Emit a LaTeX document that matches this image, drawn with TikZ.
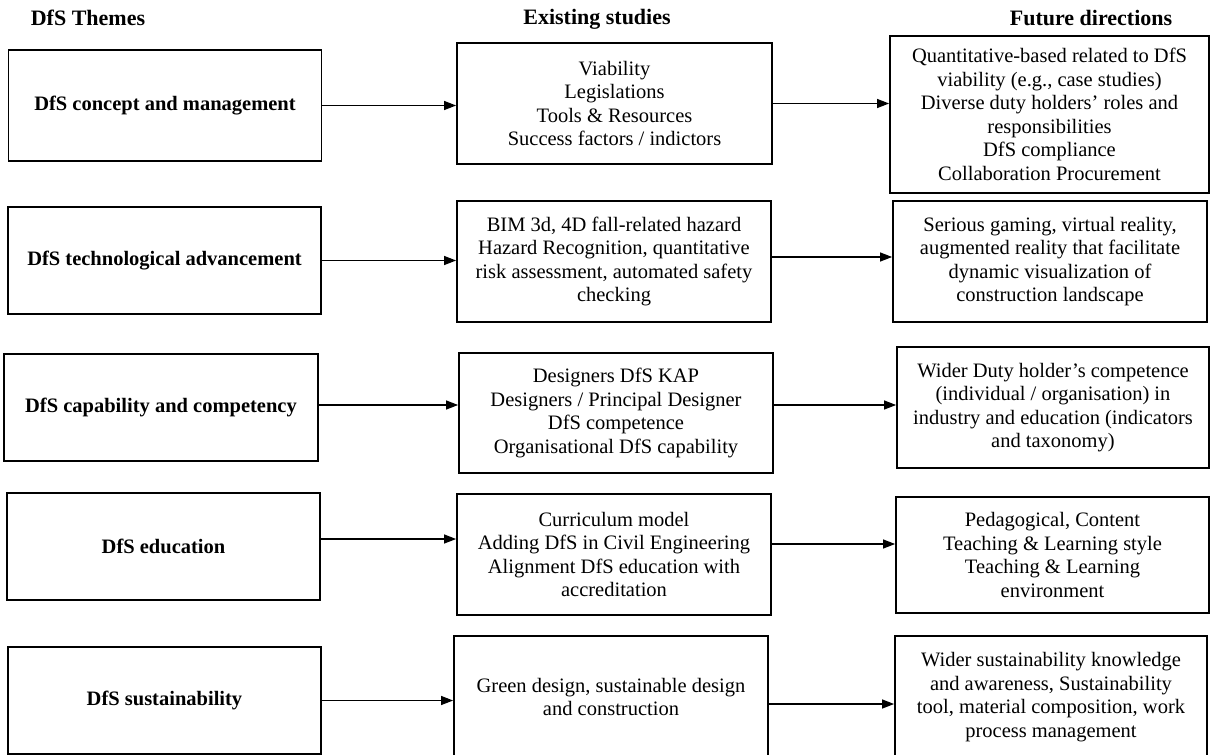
\documentclass[tikz,border=0pt]{standalone}
\usepackage{fontspec}
\setmainfont{Liberation Serif}
\usetikzlibrary{arrows.meta}

\tikzset{
  box/.style={draw, line width=1.8pt, align=center, inner sep=2pt, font=\fontsize{20.5}{23.5}\selectfont},
  theme/.style={box, font=\fontsize{20.5}{23.5}\selectfont\bfseries},
  head/.style={font=\fontsize{22}{26}\selectfont\bfseries},
  arr/.style={line width=1.2pt, -{Triangle[length=12pt,width=9pt]}},
}

\begin{document}
\begin{tikzpicture}[x=1pt,y=1pt]
  \useasboundingbox (0,0) rectangle (1211,-755);
  % column heads
  \node[head] (hT) at (88,-18) {DfS Themes};
  \node[head] (hS) at (597,-19) {Existing studies};
  \node[head] (hF) at (1091,-18) {Future directions};
  % themes
  \node[theme, minimum width=313pt, minimum height=111pt] (T1) at (165,-105.5) {DfS concept and management};
  \node[theme, minimum width=313pt, minimum height=107pt] (T2) at (164.5,-260.5) {DfS technological advancement};
  \node[theme, minimum width=314pt, minimum height=107pt] (T3) at (161,-407.5) {DfS capability and competency};
  \node[theme, minimum width=313pt, minimum height=107pt] (T4) at (163.5,-546.5) {DfS education};
  \node[theme, minimum width=313pt, minimum height=107pt] (T5) at (164.5,-700.5) {DfS sustainability};
  % existing studies
  \node[box, minimum width=315pt, minimum height=121pt] (S1) at (614.5,-103.5)
    {Viability\\Legislations\\Tools \& Resources\\Success factors / indictors};
  \node[box, minimum width=314pt, minimum height=121pt] (S2) at (614,-261.5)
    {BIM 3d, 4D fall-related hazard\\Hazard Recognition, quantitative\\risk assessment, automated safety\\checking};
  \node[box, minimum width=314pt, minimum height=120pt] (S3) at (616,-413)
    {Designers DfS KAP\\Designers / Principal Designer\\DfS competence\\Organisational DfS capability};
  \node[box, minimum width=314pt, minimum height=121pt] (S4) at (614,-554.5)
    {Curriculum model\\Adding DfS in Civil Engineering\\Alignment DfS education with\\accreditation};
  \node[box, minimum width=314pt, minimum height=122pt] (S5) at (611,-697)
    {Green design, sustainable design\\and construction};
  % future directions
  \node[box, minimum width=319pt, minimum height=157pt] (F1) at (1049.5,-114.5)
    {Quantitative-based related to DfS\\viability (e.g., case studies)\\Diverse duty holders’ roles and\\responsibilities\\DfS compliance\\Collaboration Procurement};
  \node[box, minimum width=314pt, minimum height=121pt] (F2) at (1050,-261.5)
    {Serious gaming, virtual reality,\\augmented reality that facilitate\\dynamic visualization of\\construction landscape};
  \node[box, minimum width=312pt, minimum height=121pt] (F3) at (1053,-407.5)
    {Wider Duty holder’s competence\\(individual / organisation) in\\industry and education (indicators\\and taxonomy)};
  \node[box, minimum width=313pt, minimum height=116pt] (F4) at (1052.5,-555)
    {Pedagogical, Content\\Teaching \& Learning style\\Teaching \& Learning\\environment};
  \node[box, minimum width=312pt, minimum height=122pt] (F5) at (1051,-697)
    {Wider sustainability knowledge\\and awareness, Sustainability\\tool, material composition, work\\process management};
  % arrows
  \draw[arr] (T1.east) -- (T1.east -| S1.west);
  \draw[arr] (S1.east) -- (S1.east -| F1.west);
  \draw[arr] (T2.east) -- (T2.east -| S2.west);
  \draw[arr, transform canvas={yshift=4.5pt}] (S2.east) -- (S2.east -| F2.west);
  \draw[arr, transform canvas={yshift=2.5pt}] (T3.east) -- (T3.east -| S3.west);
  \draw[arr, transform canvas={yshift=8pt}] (S3.east) -- (S3.east -| F3.west);
  \draw[arr, transform canvas={yshift=7.5pt}] (T4.east) -- (T4.east -| S4.west);
  \draw[arr, transform canvas={yshift=10.5pt}] (S4.east) -- (S4.east -| F4.west);
  \draw[arr] (T5.east) -- (T5.east -| S5.west);
  \draw[arr, transform canvas={yshift=-7pt}] (S5.east) -- (S5.east -| F5.west);
\end{tikzpicture}
\end{document}
